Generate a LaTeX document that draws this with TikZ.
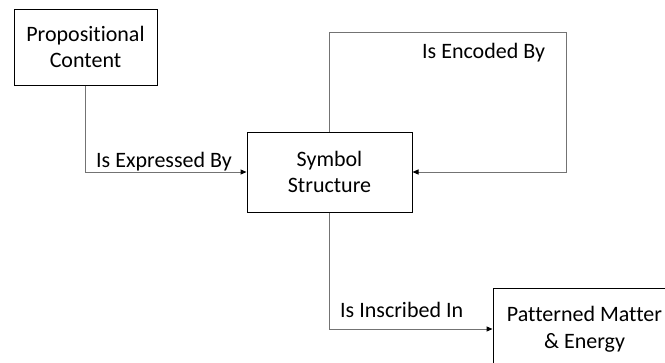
\documentclass[tikz,border=0pt]{standalone}
\usepackage{fontspec}
\setmainfont{Carlito}[Ligatures={NoCommon}]
\usetikzlibrary{arrows.meta}
\begin{document}
\begin{tikzpicture}[x=1pt,y=-1pt,
  box/.style={draw=black,line width=1pt,fill=white,align=center,inner sep=0pt,
    font=\fontsize{22}{26.5}\selectfont},
  link/.style={draw=black!55,line width=1pt,-{Triangle[length=6pt,width=5pt,color=black]}},
  lbl/.style={font=\fontsize{22}{26.5}\selectfont,inner sep=0pt,anchor=base west}]
\useasboundingbox (0,0) rectangle (665,362);
\clip (0,0) rectangle (665,362);
\node[box,minimum width=143pt,minimum height=76pt] (pc) at (85.5,47) {Propositional\\Content};
\node[box,minimum width=165pt,minimum height=80pt] (ss) at (329.5,172) {Symbol\\Structure};
\node[box,minimum width=183pt,minimum height=82pt] (pm) at (584.5,329) {Patterned Matter\\\& Energy};
\coordinate (e2) at (566,32);
\draw[link] (pc.south) |- (ss.west);
\draw[link] (ss.north) |- (e2) |- (ss.east);
\draw[link] (ss.south) |- (pm.west);
\node[lbl] (l1) at (96,167) {Is Expressed By};
\node[lbl] (l2) at (422,58) {Is Encoded By};
\node[lbl] (l3) at (340,317) {Is Inscribed In};
\end{tikzpicture}
\end{document}
